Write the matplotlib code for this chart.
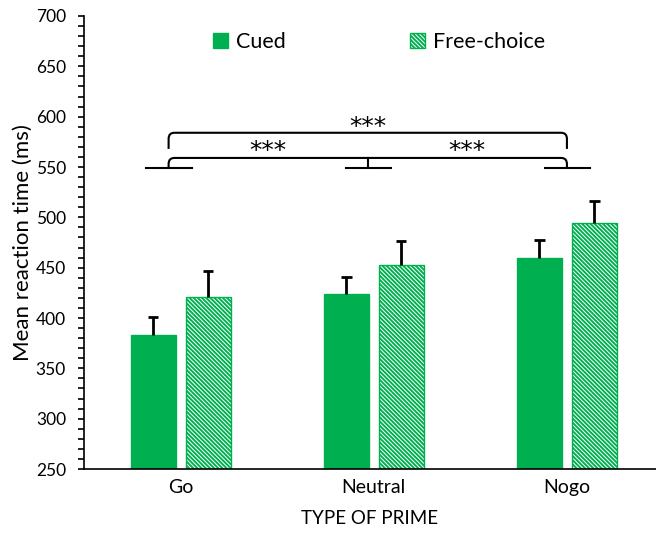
import numpy as np
import matplotlib
matplotlib.use("Agg")
import matplotlib.pyplot as plt
from matplotlib.path import Path
from matplotlib.patches import PathPatch
from matplotlib.ticker import MultipleLocator

# data
primes = ["Go", "Neutral", "Nogo"]
cued = [383, 424, 460]
cued_err = [18, 17, 17]
free_choice = [421, 453, 494]
free_err = [26, 23, 22]

green = "#00B050"
plt.rcParams["font.family"] = ["Lato", "DejaVu Sans"]
plt.rcParams["hatch.linewidth"] = 1.4
plt.rcParams["hatch.color"] = green

fig = plt.figure(figsize=(6.56, 5.42), dpi=100)
ax = fig.add_axes([84 / 656, 73 / 542, (656 - 84) / 656, (469 - 16) / 542])

x = np.arange(len(primes))
w = 0.233
off = 0.142

ax.bar(x - off, cued, w, color=green, edgecolor=green, label="Cued", zorder=2)
ax.bar(x + off, free_choice, w, color="white", edgecolor=green, hatch="\\" * 8,
       linewidth=1.0, label="Free-choice", zorder=2)

# upper error bars only
cap = 0.027
for xs, vals, errs in [(x - off, cued, cued_err), (x + off, free_choice, free_err)]:
    tops = np.array(vals) + np.array(errs)
    ax.vlines(xs, vals, tops, color="black", lw=2, zorder=3)
    ax.hlines(tops, xs - cap, xs + cap, color="black", lw=2, zorder=3)

ax.set_xlim(-0.5, (656 - 181) / 193)
ax.set_ylim(250, 700)
ax.yaxis.set_major_locator(MultipleLocator(50))
ax.yaxis.set_minor_locator(MultipleLocator(10))
ax.tick_params(axis="y", which="both", direction="out", length=4, width=1.2, labelsize=12.5, pad=9)
ax.tick_params(axis="x", length=0, labelsize=14, pad=7)
ax.set_xticks(x)
ax.set_xticklabels(primes)
for s in ["top", "right"]:
    ax.spines[s].set_visible(False)
ax.spines["left"].set_linewidth(1.2)
ax.spines["bottom"].set_linewidth(1.2)

ax.set_ylabel("Mean reaction time (ms)", fontsize=16, labelpad=2)
ax.set_xlabel("TYPE OF PRIME", fontsize=13.5, labelpad=10)


# significance brackets
def bracket(x0, x1, ytop, ybot, dx=0.03, dy=6):
    verts = [(x0, ybot), (x0, ytop - dy), (x0, ytop), (x0 + dx, ytop),
             (x1 - dx, ytop), (x1, ytop), (x1, ytop - dy), (x1, ybot)]
    codes = [Path.MOVETO, Path.LINETO, Path.CURVE3, Path.CURVE3,
             Path.LINETO, Path.CURVE3, Path.CURVE3, Path.LINETO]
    ax.add_patch(PathPatch(Path(verts, codes), fill=False, lw=1.5, color="black", clip_on=False))


left_end = x[0] - 0.062
right_end = x[2]
mid = x[1] - 0.031
base_y = 549
for c in [left_end, mid, right_end]:
    ax.plot([c - 0.115, c + 0.12], [base_y, base_y], color="black", lw=1.5)
bracket(left_end, right_end, 559, base_y)
ax.plot([mid, mid], [base_y, 559], color="black", lw=1.5)
bracket(left_end, right_end, 584, 568)

star_font = ["DejaVu Sans"]
ax.text((left_end + mid) / 2, 566, "***", ha="center", va="center", fontsize=18, family=star_font)
ax.text((mid + right_end) / 2, 566, "***", ha="center", va="center", fontsize=18, family=star_font)
ax.text((left_end + right_end) / 2, 590, "***", ha="center", va="center", fontsize=18, family=star_font)

fig.legend(loc="center", bbox_to_anchor=(379 / 656, 1 - 42 / 542), ncol=2, frameon=False,
           fontsize=15.5, handlelength=0.7, handleheight=0.7, handletextpad=0.35,
           columnspacing=5.8)

fig.savefig("out.png", dpi=100)
